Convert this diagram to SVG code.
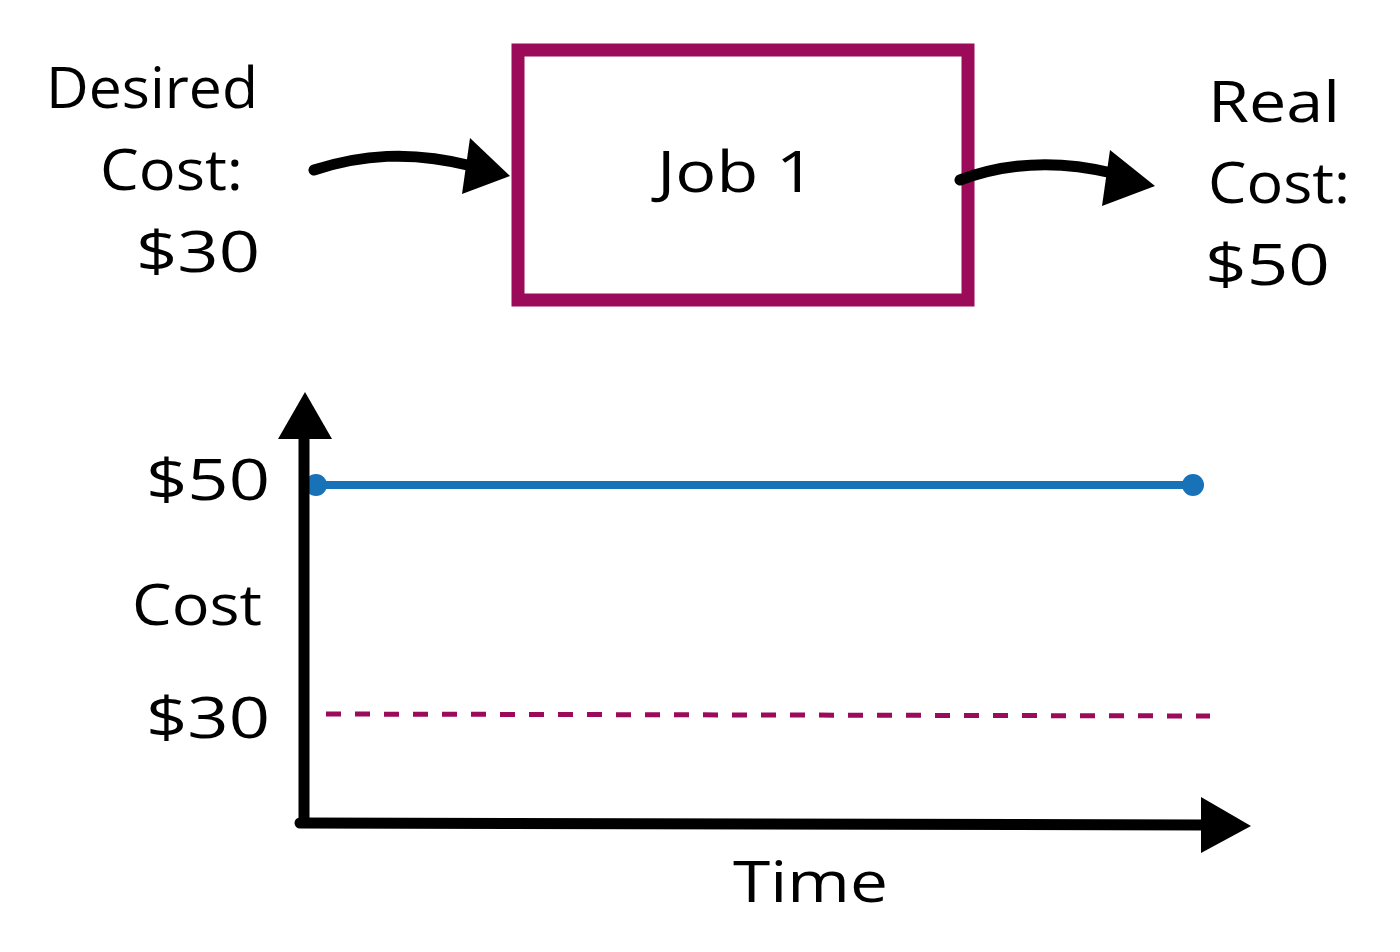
<svg xmlns="http://www.w3.org/2000/svg" width="1400" height="952" viewBox="0 0 1400 952">
<style>
.t{font-family:"Open Sans","Liberation Sans",sans-serif;font-size:56px;fill:#000}
.ax{stroke:#000;stroke-width:11;fill:none;stroke-linecap:round}
.head{fill:#000}
</style>
<rect width="1400" height="952" fill="#fff"/>
<g id="desired">
<text class="t" x="46" y="108" textLength="212" lengthAdjust="spacingAndGlyphs">Desired</text>
<text class="t" x="100" y="190" textLength="143" lengthAdjust="spacingAndGlyphs">Cost:</text>
<text class="t" x="136" y="272" textLength="124" lengthAdjust="spacingAndGlyphs">$30</text>
</g>
<g id="job1">
<rect x="518" y="50" width="450" height="250" fill="none" stroke="#9b0b5a" stroke-width="13"/>
<text class="t" x="657" y="192" textLength="158" lengthAdjust="spacingAndGlyphs">Job 1</text>
</g>
<g id="real">
<text class="t" x="1208" y="122" textLength="132" lengthAdjust="spacingAndGlyphs">Real</text>
<text class="t" x="1208" y="203" textLength="142" lengthAdjust="spacingAndGlyphs">Cost:</text>
<text class="t" x="1205" y="285" textLength="125" lengthAdjust="spacingAndGlyphs">$50</text>
</g>
<g id="chart">
<text class="t" x="146" y="500" textLength="124" lengthAdjust="spacingAndGlyphs">$50</text>
<text class="t" x="132" y="625" textLength="130" lengthAdjust="spacingAndGlyphs">Cost</text>
<text class="t" x="146" y="738" textLength="124" lengthAdjust="spacingAndGlyphs">$30</text>
<text class="t" x="733" y="902" textLength="155" lengthAdjust="spacingAndGlyphs">Time</text>
<line x1="316" y1="485" x2="1193" y2="485" stroke="#1872b8" stroke-width="8"/>
<circle cx="316" cy="485" r="11" fill="#1872b8"/>
<circle cx="1193" cy="485" r="11" fill="#1872b8"/>
<line x1="326" y1="714" x2="1210" y2="716" stroke="#9b0b5a" stroke-width="5" stroke-dasharray="15 14"/>
</g>
<g id="connectors">
<path class="ax" d="M314 170 C360 155 410 150 472 166"/>
<polygon class="head" points="510,176 470,138 462,194"/>
<path class="ax" d="M960 180 C1000 165 1050 158 1112 173"/>
<polygon class="head" points="1155,186 1110,150 1102,206"/>
<line class="ax" x1="304" y1="822" x2="304" y2="436" stroke-linecap="butt"/>
<polygon class="head" points="305,392 278,439 332,439"/>
<line class="ax" x1="300" y1="823" x2="1205" y2="825" stroke-linecap="butt"/>
<polygon class="head" points="1251,826 1201,797 1201,853"/>
</g>
</svg>
